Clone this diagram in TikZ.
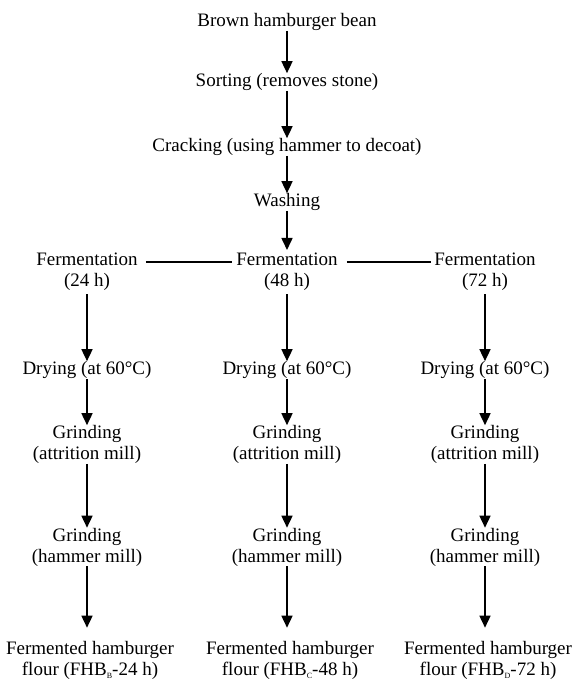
\documentclass[tikz,border=0pt]{standalone}
\usepackage{fontspec}
\setmainfont{Liberation Serif}
\usetikzlibrary{arrows.meta}
\tikzset{
  stage/.style={
    align=center,
    inner sep=0pt,
    font=\fontsize{19}{21}\selectfont
  },
  flow/.style={
    line width=1.6pt,
    -{Triangle[width=11pt,length=12pt]}
  },
  link/.style={line width=1.4pt}
}
\newcommand{\lowsub}[1]{\raisebox{-3pt}{\fontsize{8}{8}\selectfont #1}}

\begin{document}
\begin{tikzpicture}[x=1pt,y=-1pt]
  \useasboundingbox (0,0) rectangle (574,681);
  % common trunk
  \node[stage] (bean) at (287,22) {Brown hamburger bean};
  \node[stage] (sort) at (287,82) {Sorting (removes stone)};
  \node[stage] (crack) at (287,147) {Cracking (using hammer to decoat)};
  \node[stage] (wash) at (287,202) {Washing};
  \draw[flow] (bean) -- (sort);
  \draw[flow] (sort) -- (crack);
  \draw[flow] (crack) -- (wash);
  % three fermentation branches
  \foreach \col/\x/\h/\sub in {a/87/24/B, b/287/48/C, c/485/72/D} {
    \node[stage] (ferm-\col) at (\x,272) {Fermentation\\(\h~h)};
    \node[stage] (dry-\col) at (\x,370) {Drying (at 60°C)};
    \node[stage] (attr-\col) at (\x,444.5) {Grinding\\(attrition mill)};
    \node[stage] (hamm-\col) at (\x,547) {Grinding\\(hammer mill)};
    \node[stage] (flour-\col) at (\x+3,660) {Fermented hamburger\\flour (FHB\lowsub{\sub}-\h~h)};
    \draw[flow, shorten <=3pt] (ferm-\col) -- (dry-\col);
    \draw[flow] (dry-\col) -- (attr-\col);
    \draw[flow] (attr-\col) -- (hamm-\col);
    \draw[flow, shorten >=13pt] (hamm-\col) -- (hamm-\col |- flour-\col.north);
  }
  \draw[flow, shorten >=3pt] (wash) -- (ferm-b);
  \draw[link, shorten <=8pt, shorten >=4pt]
    ([yshift=-9pt]ferm-a.north east) -- ([yshift=-9pt]ferm-b.north west);
  \draw[link, shorten <=9pt, shorten >=3pt]
    ([yshift=-9pt]ferm-b.north east) -- ([yshift=-9pt]ferm-c.north west);
\end{tikzpicture}
\end{document}
